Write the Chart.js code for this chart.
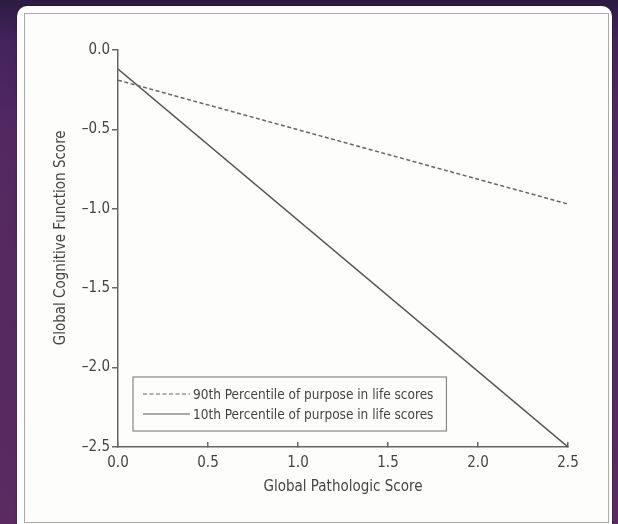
<!DOCTYPE html>
<html>
<head>
<meta charset="utf-8">
<script src="https://cdn.jsdelivr.net/npm/chart.js@4"></script>
<style>
  html, body { margin: 0; padding: 0; }
  body {
    width: 618px; height: 524px; overflow: hidden; position: relative;
    background: linear-gradient(to bottom, #2d1b43 0px, #43235a 40px, #532862 130px, #5a2a61 100%);
  }
  #panel {
    position: absolute; left: 17px; top: 6px; width: 595px; height: 530px;
    background: #fff; border-radius: 10px; box-shadow: 0 0 2px rgba(0,0,0,0.4);
  }
  #frame {
    position: absolute; left: 24px; top: 13px; width: 585px; height: 510px;
    box-sizing: border-box; border: 1px solid #a8a8a8; background: #fdfdfb;
  }
  #chart { position: absolute; left: 0; top: 0; }
</style>
</head>
<body>
<div id="panel"></div>
<div id="frame"></div>
<canvas id="chart" width="618" height="524"></canvas>
<script>
// data
const xValues = [0, 2.5];
const high90 = [-0.19, -0.97];
const low10 = [-0.12, -2.5];
const seriesLabels = ['90th Percentile of purpose in life scores', '10th Percentile of purpose in life scores'];
const xTickValues = [0, 0.5, 1.0, 1.5, 2.0, 2.5];
const xTickLabels = ['0.0', '0.5', '1.0', '1.5', '2.0', '2.5'];
const yTickValues = [0, -0.5, -1.0, -1.5, -2.0, -2.5];
const yTickLabels = ['0.0', '\u20130.5', '\u20131.0', '\u20131.5', '\u20132.0', '\u20132.5'];

const FONT = "'Liberation Sans Narrow', 'DejaVu Sans Condensed', 'Arial Narrow', sans-serif";
const TEXT = '#444';

const toPoints = ys => xValues.map((x, i) => ({ x: x, y: ys[i] }));

// legend box sitting inside the plot, bottom left
const boxLegend = {
    id: 'boxLegend',
    afterDatasetsDraw(chart) {
        const { ctx, chartArea } = chart;
        const sets = chart.data.datasets;
        ctx.save();
        ctx.font = '13.5px ' + FONT;
        const textW = Math.max(...sets.map(d => ctx.measureText(d.label).width));
        const left = chartArea.left + 15;
        const top = chartArea.bottom - 70;
        const rowH = 20;
        const w = 10 + 47 + 4 + textW + 12;
        const h = rowH * sets.length + 14;
        ctx.strokeStyle = '#888';
        ctx.lineWidth = 1.2;
        ctx.strokeRect(left, top, w, h);
        sets.forEach((d, i) => {
            const y = top + 17 + i * rowH;
            ctx.beginPath();
            ctx.setLineDash(d.borderDash || []);
            ctx.strokeStyle = d.borderColor;
            ctx.lineWidth = 1.2;
            ctx.moveTo(left + 10, y);
            ctx.lineTo(left + 57, y);
            ctx.stroke();
            ctx.setLineDash([]);
            ctx.fillStyle = TEXT;
            ctx.textBaseline = 'middle';
            ctx.fillText(d.label, left + 60, y + 1);
        });
        ctx.restore();
    }
};

new Chart(document.getElementById('chart'), {
    type: 'scatter',
    data: {
        datasets: [{
            label: seriesLabels[0],
            data: toPoints(high90),
            showLine: true,
            borderColor: '#666',
            borderWidth: 1.5,
            borderDash: [4, 2.5],
            pointRadius: 0
        }, {
            label: seriesLabels[1],
            data: toPoints(low10),
            showLine: true,
            borderColor: '#555',
            borderWidth: 1.5,
            pointRadius: 0
        }]
    },
    options: {
        responsive: false,
        animation: false,
        devicePixelRatio: 1,
        layout: { padding: { left: 0, right: 50, top: 50, bottom: 0 } },
        plugins: {
            legend: { display: false },
            tooltip: { enabled: false }
        },
        scales: {
            x: {
                type: 'linear',
                min: 0, max: 2.5,
                afterBuildTicks: s => { s.ticks = xTickValues.map(v => ({ value: v })); },
                afterFit: s => { s.height = 77; },
                border: { color: '#666', width: 1.5 },
                grid: { drawOnChartArea: false, color: '#666', lineWidth: 1.5, tickLength: -5 },
                ticks: {
                    padding: 12,
                    color: TEXT,
                    font: { family: FONT, size: 15 },
                    callback: v => xTickLabels[xTickValues.indexOf(v)]
                },
                title: {
                    display: true,
                    text: 'Global Pathologic Score',
                    color: TEXT,
                    font: { family: FONT, size: 15 },
                    padding: { top: 0, bottom: 28 }
                }
            },
            y: {
                type: 'linear',
                min: -2.5, max: 0,
                afterBuildTicks: s => { s.ticks = yTickValues.map(v => ({ value: v })); },
                afterFit: s => { s.width = 118; },
                border: { color: '#666', width: 1.5 },
                grid: { drawOnChartArea: false, color: '#666', lineWidth: 1.5, tickLength: 6 },
                ticks: {
                    padding: 2,
                    color: TEXT,
                    font: { family: FONT, size: 15 },
                    callback: v => yTickLabels[yTickValues.indexOf(v)]
                },
                title: {
                    display: true,
                    text: '     Global Cognitive Function Score',
                    color: TEXT,
                    font: { family: FONT, size: 15 },
                    padding: { top: 52, bottom: 0 }
                }
            }
        }
    },
    plugins: [boxLegend]
});
</script>
</body>
</html>
